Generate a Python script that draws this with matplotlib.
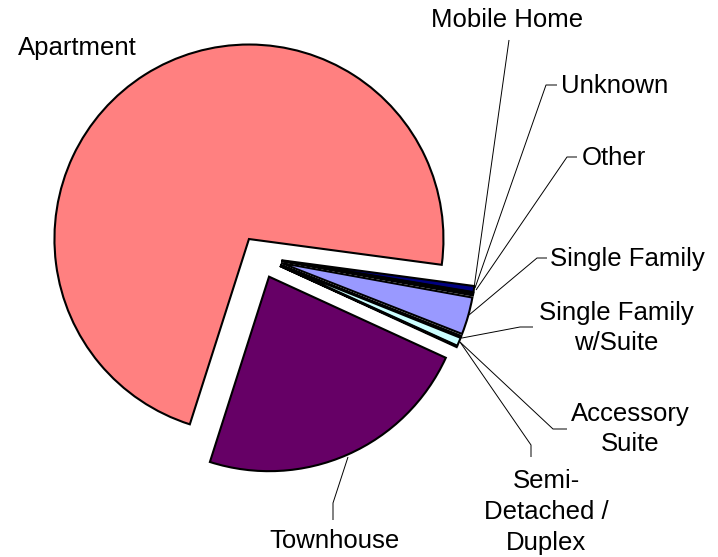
import matplotlib.pyplot as plt

# dwelling type shares (%)
types = ['Apartment', 'Mobile Home', 'Unknown', 'Other', 'Single Family',
         'Single Family w/Suite', 'Accessory Suite', 'Semi-Detached / Duplex', 'Townhouse']
shares = [72.2, 0.5, 0.15, 0.08, 3.1, 0.12, 0.7, 0.08, 23.07]
colors = ['#FF8080', '#000080', '#CCCCFF', '#0066CC', '#9999FF',
          '#993366', '#CCFFFF', '#FFFFCC', '#660066']

W, H = 718, 557
R = 194.5           # pie radius in pixels
CX, CY = 260.4, 257.1


def px(x, y):
    return (x - CX) / R, (CY - y) / R


fig = plt.figure(figsize=(W / 100, H / 100), dpi=100)
ax = fig.add_axes([0, 0, 1, 1])
plt.rcParams['font.family'] = ['Liberation Sans', 'DejaVu Sans']

ax.pie(shares, colors=colors, startangle=252.3, counterclock=False,
       explode=[0.11] * len(shares), radius=1, center=(0, 0),
       wedgeprops=dict(edgecolor='black', linewidth=1.5))

ax.set_xlim(px(0, 0)[0], px(W, 0)[0])
ax.set_ylim(px(0, H)[1], px(0, 0)[1])
ax.set_aspect('equal')
ax.axis('off')

# leader lines (pixel coords)
leaders = [
    [(509, 40), (474, 288)],
    [(557, 85), (546, 85), (475, 288)],
    [(577, 157), (567, 157), (476, 290)],
    [(547, 258), (537, 258), (469, 315)],
    [(533, 327), (520, 327), (462, 338)],
    [(567, 429), (553, 429), (460, 342)],
    [(531, 457), (531, 445), (460, 342)],
    [(333, 520), (333, 503), (348, 457)],
]
for pts in leaders:
    xs, ys = zip(*[px(x, y) for x, y in pts])
    ax.plot(xs, ys, color='black', lw=0.7, solid_capstyle='butt')

fs = 18.5
labels = [
    ('Apartment', 18, 55, 'left', 'baseline'),
    ('Mobile Home', 431, 27, 'left', 'baseline'),
    ('Unknown', 561, 93, 'left', 'baseline'),
    ('Other', 582, 165, 'left', 'baseline'),
    ('Single Family', 550, 266, 'left', 'baseline'),
    ('Single Family\nw/Suite', 616, 328, 'center', 'center'),
    ('Accessory\nSuite', 630, 429, 'center', 'center'),
    ('Semi-\nDetached /\nDuplex', 546, 512, 'center', 'center'),
    ('Townhouse', 334, 548, 'center', 'baseline'),
]
for txt, x, y, ha, va in labels:
    u, v = px(x, y)
    ax.text(u, v, txt, fontsize=fs, ha=ha, va=va, multialignment='center',
            linespacing=1.35, color='black')

fig.savefig('out.png', dpi=100)
